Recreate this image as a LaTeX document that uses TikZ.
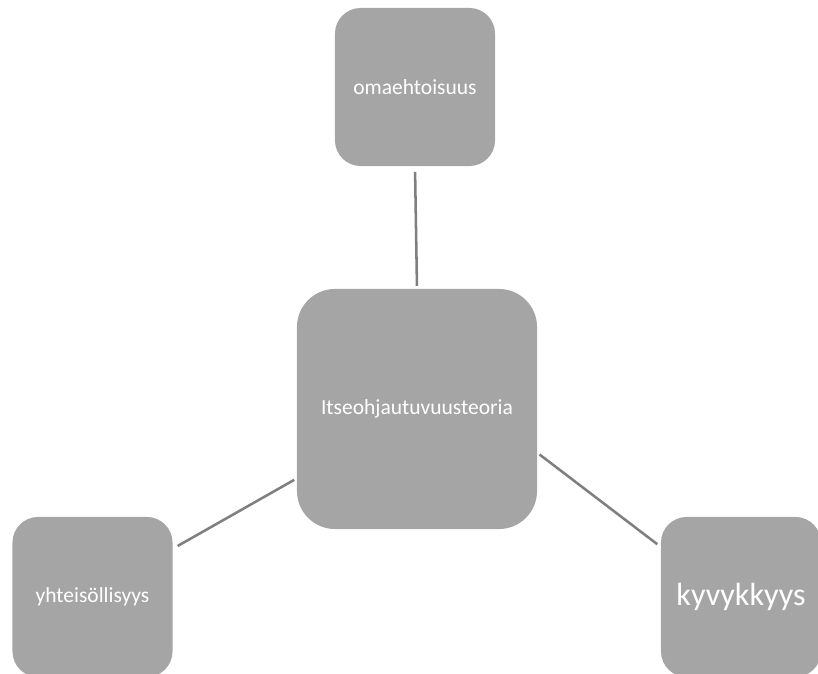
\documentclass[tikz,border=0pt]{standalone}
\usepackage{fontspec}
\setmainfont{Carlito}
\usepackage{tikz}
\usetikzlibrary{positioning}
\definecolor{boxgray}{HTML}{A5A5A5}
\definecolor{linkgray}{HTML}{7F7F7F}
\tikzset{
  teema/.style={rectangle, rounded corners=0.64cm, fill=boxgray, text=white,
    minimum width=4cm, minimum height=4cm, inner sep=0pt,
    font=\fontsize{15.3}{18}\selectfont},
  keskus/.style={teema, rounded corners=0.95cm, minimum width=6cm, minimum height=6cm},
  linkki/.style={draw=linkgray, line width=1.8pt}
}
\begin{document}
\begin{tikzpicture}[x=0.025cm, y=0.025cm]
\useasboundingbox (0,0) rectangle (818,673);
\node [keskus] (teoria) at (417,264) {Itseohjautuvuusteoria};
\node [teema, minimum height=3.95cm] (oma) at (415,586) {omaehtoisuus};
\node [teema] (yht) at (92.5,76) {yhteisöllisyys};
\node [teema, font=\fontsize{22.8}{26}\selectfont] (kyky) at (741,76) {kyvykkyys};
\draw [linkki, shorten <=2pt, shorten >=4pt] (teoria.north) -- (oma.south);
\draw [linkki, shorten <=2pt, shorten >=4pt] (teoria.210) -- (yht.31);
\draw [linkki, shorten <=2pt, shorten >=3pt] (teoria.340) -- (kyky.148);
\end{tikzpicture}
\end{document}
